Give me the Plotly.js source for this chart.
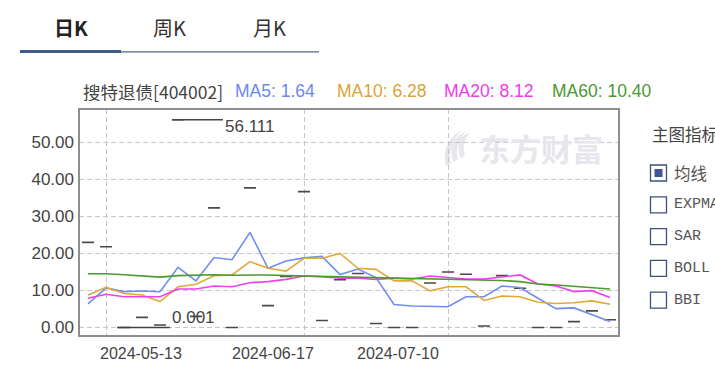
<!DOCTYPE html>
<html><head><meta charset="utf-8">
<script src="https://cdn.plot.ly/plotly-3.0.1.min.js"></script>
<style>html,body{margin:0;padding:0;background:#fff;overflow:hidden}#chart{width:715px;height:372px}</style>
</head><body><div id="chart"></div>
<script>
// ---------------- data ----------------
const dates = ['2024-05-10','2024-05-13','2024-05-16','2024-05-20','2024-05-22','2024-05-24','2024-05-28','2024-05-30','2024-06-03','2024-06-05',
               '2024-06-07','2024-06-13','2024-06-17','2024-06-19','2024-06-21','2024-06-25','2024-06-27','2024-07-01','2024-07-03','2024-07-05',
               '2024-07-10','2024-07-12','2024-07-16','2024-07-18','2024-07-22','2024-07-24','2024-07-26','2024-07-30','2024-08-01','2024-08-05'];
const closes = [23.0, 21.8, 0.001, 2.75, 0.7, 56.111, 3.0, 32.3, 0.02, 37.7,
                5.9, 13.8, 36.7, 1.9, 12.9, 14.6, 1.1, 0.02, 0.02, 12.0,
                15.0, 14.4, 0.4, 14.0, 10.6, 0.02, 0.02, 1.6, 4.5, 2.1];
const ma5  = [6.4, 10.7, 9.7, 9.85, 9.65, 16.25, 12.6, 18.9, 18.3, 25.7,
              16.0, 17.95, 18.8, 19.2, 14.3, 15.8, 13.5, 6.2, 5.8, 5.6,
              5.6, 8.3, 8.3, 11.2, 10.8, 7.9, 5.1, 5.3, 3.5, 1.64];
const ma10 = [8.8, 10.85, 9.2, 8.8, 7.0, 11.0, 11.7, 14.0, 14.2, 17.8,
              16.0, 15.25, 18.7, 18.7, 20.0, 16.0, 15.7, 12.6, 12.6, 9.9,
              11.0, 11.0, 7.3, 8.5, 8.3, 6.8, 6.5, 6.7, 7.2, 6.28];
const ma20 = [7.9, 9.0, 8.3, 8.3, 8.3, 10.4, 10.4, 11.2, 11.0, 12.1,
              12.4, 13.0, 13.9, 13.7, 13.3, 13.3, 13.0, 13.3, 13.1, 13.9,
              13.45, 13.1, 13.1, 13.7, 14.2, 11.75, 11.2, 9.7, 9.95, 8.12];
const ma60 = [14.5, 14.5, 14.25, 14.0, 13.6, 14.0, 14.1, 14.25, 14.1, 14.2,
              14.2, 14.0, 13.9, 13.85, 13.8, 13.6, 13.45, 13.3, 13.2, 13.1,
              13.1, 12.9, 12.8, 12.7, 12.4, 11.75, 11.5, 11.1, 10.8, 10.40];
const tickDates = ['2024-05-13', '2024-06-17', '2024-07-10'];
const yTicks = [0, 10, 20, 30, 40, 50];
const stockName = '搜特退债[404002]';
const maNames = ['MA5', 'MA10', 'MA20', 'MA60'];
const tabs = ['日K', '周K', '月K'];
const panelTitle = '主图指标';
const indicators = ['均线', 'EXPMA', 'SAR', 'BOLL', 'BBI'];
const watermark = '东方财富';

// ---------------- layout helpers ----------------
const L = 79, R = 619, T = 109, B = 336;
const px = x => (x - L) / (R - L);
const py = y => (B - y) / (B - T);
const FONT = 'Liberation Sans, Arial, Noto Sans CJK SC, sans-serif';
const CJK = 'Noto Sans CJK SC, Liberation Sans, sans-serif';

const idx = dates.map((d, i) => i);
const maSeries = [ma5, ma10, ma20, ma60];
const lineColors = ['#6f8df2', '#e2a83c', '#f03ef0', '#4b9a2d'];
const textColors = ['#6a88f0', '#dca437', '#ee3aee', '#4a9833'];

const traces = [{
  type: 'candlestick', x: idx, open: closes, high: closes, low: closes, close: closes,
  increasing: {line: {color: '#4a4a4a', width: 1.6}, fillcolor: '#4a4a4a'},
  decreasing: {line: {color: '#4a4a4a', width: 1.6}, fillcolor: '#4a4a4a'},
  whiskerwidth: 0, hoverinfo: 'skip'
}];
maSeries.forEach((s, k) => traces.push({
  type: 'scatter', mode: 'lines', x: idx, y: s,
  line: {color: lineColors[k], width: 1.6}, hoverinfo: 'skip'
}));

const shapes = [];
const annotations = [];

// plot border
shapes.push({type: 'rect', xref: 'paper', yref: 'paper', x0: 0, x1: 1, y0: 0, y1: 1,
  line: {color: '#8e8e8e', width: 2}, layer: 'above'});

// tabs
const tabX = [52, 151, 251];
tabs.forEach((t, i) => annotations.push({
  xref: 'paper', yref: 'paper', x: px(tabX[i]), y: py(27), xanchor: 'left', yanchor: 'middle',
  text: i === 0 ? '<b>' + t + '</b>' : t, showarrow: false,
  font: {family: CJK, size: 20, color: i === 0 ? '#222' : '#333'}
}));
shapes.push({type: 'line', xref: 'paper', yref: 'paper', x0: px(20), x1: px(121), y0: py(51.5), y1: py(51.5),
  line: {color: '#3f5a8d', width: 3}});
shapes.push({type: 'line', xref: 'paper', yref: 'paper', x0: px(121), x1: px(319), y0: py(51.8), y1: py(51.8),
  line: {color: '#55668a', width: 1.2}});

// header
annotations.push({xref: 'paper', yref: 'paper', x: px(81), y: py(91), xanchor: 'left', yanchor: 'middle',
  text: stockName, showarrow: false, font: {family: CJK, size: 17.5, color: '#444'}});
const maX = [233, 335, 442, 550];
maNames.forEach((n, k) => {
  const s = maSeries[k];
  annotations.push({xref: 'paper', yref: 'paper', x: px(maX[k]), y: py(91), xanchor: 'left', yanchor: 'middle',
    text: n + ': ' + s[s.length - 1].toFixed(2), showarrow: false,
    font: {family: FONT, size: 17.5, color: textColors[k]}});
});

// date labels
const labelShift = [1.94, -1.72, -2.78];
tickDates.forEach((d, i) => annotations.push({
  xref: 'x', yref: 'paper', x: dates.indexOf(d) + labelShift[i], y: py(353), xanchor: 'center', yanchor: 'middle',
  text: d, showarrow: false, font: {family: FONT, size: 16, color: '#444'}
}));

// max / min markers
const maxV = Math.max(...closes), minV = Math.min(...closes);
const maxI = closes.indexOf(maxV), minI = closes.indexOf(minV);
shapes.push({type: 'line', xref: 'x', yref: 'y', x0: maxI - 0.33, x1: maxI + 2.5, y0: maxV, y1: maxV,
  line: {color: '#444', width: 1.6}});
shapes.push({type: 'line', xref: 'x', yref: 'y', x0: minI - 0.38, x1: minI + 2.55, y0: minV, y1: minV,
  line: {color: '#444', width: 1.6}});
annotations.push({xref: 'x', yref: 'y', x: maxI + 2.5, y: maxV, xanchor: 'left', yanchor: 'middle', yshift: -7,
  text: String(maxV), showarrow: false, font: {family: FONT, size: 17, color: '#444'}});
annotations.push({xref: 'x', yref: 'y', x: minI + 2.55, y: minV, xanchor: 'left', yanchor: 'middle', yshift: 10,
  text: String(minV), showarrow: false, font: {family: FONT, size: 17, color: '#444'}});

// watermark
annotations.push({xref: 'paper', yref: 'paper', x: px(541), y: py(147), xanchor: 'center', yanchor: 'middle',
  text: '<b>' + watermark + '</b>', showarrow: false, font: {family: CJK, size: 31, color: '#e6e6ec'}});
for (let k = 0; k < 3; k++) {
  const bx = 446 + k * 7, by = 166 - k * 4;
  const tx = 462 + k * 4, ty = 129 + k * 2;
  const p = 'M' + px(bx) + ',' + py(by) +
    ' Q' + px(bx - 6) + ',' + py(by - 22) + ' ' + px(tx) + ',' + py(ty) +
    ' Q' + px(bx + 1) + ',' + py(by - 18) + ' ' + px(bx + 5) + ',' + py(by - 2) + ' Z';
  shapes.push({type: 'path', xref: 'paper', yref: 'paper', path: p, fillcolor: '#e6e6ec', line: {width: 0}, layer: 'below'});
}

// right panel
annotations.push({xref: 'paper', yref: 'paper', x: px(650), y: py(134), xanchor: 'left', yanchor: 'middle',
  text: panelTitle, showarrow: false, font: {family: CJK, size: 16.5, color: '#444'}});
indicators.forEach((t, i) => {
  const yc = 173 + i * 31.8;
  shapes.push({type: 'rect', xref: 'paper', yref: 'paper', x0: px(650.5), x1: px(666.5), y0: py(yc + 8), y1: py(yc - 8),
    line: {color: '#3d4f7a', width: 1.3}, fillcolor: '#fff'});
  if (i === 0) shapes.push({type: 'rect', xref: 'paper', yref: 'paper', x0: px(654.5), x1: px(662.5), y0: py(yc + 4), y1: py(yc - 4),
    line: {width: 0}, fillcolor: '#3b5597'});
  annotations.push({xref: 'paper', yref: 'paper', x: px(672), y: py(yc), xanchor: 'left', yanchor: 'middle',
    text: t, showarrow: false,
    font: {family: i === 0 ? CJK : 'Liberation Mono, DejaVu Sans Mono, monospace', size: i === 0 ? 16.5 : 15, color: '#555'}});
});

const layout = {
  width: 715, height: 372, margin: {l: L, r: 715 - R, t: T, b: 372 - B},
  paper_bgcolor: '#fff', plot_bgcolor: '#fff', showlegend: false,
  boxgap: 0.18, boxgroupgap: 0.18,
  font: {family: FONT, color: '#333'},
  xaxis: {type: 'linear', range: [-0.5, dates.length - 0.5], tickvals: tickDates.map(d => dates.indexOf(d)),
    showticklabels: false, ticks: '', showgrid: true, gridcolor: '#c6c6c6', griddash: '5px,3px', gridwidth: 1,
    zeroline: false, showline: false, rangeslider: {visible: false}, fixedrange: true},
  yaxis: {range: [-2.29, 59.0], tickvals: yTicks, tickformat: '.2f', ticks: '', ticklabelstandoff: 4,
    tickfont: {family: FONT, size: 17, color: '#444'},
    showgrid: true, gridcolor: '#c6c6c6', griddash: '5px,3px', gridwidth: 1, zeroline: false, showline: false, fixedrange: true},
  shapes: shapes, annotations: annotations
};

Plotly.newPlot('chart', traces, layout, {staticPlot: true, displayModeBar: false});
</script></body></html>
